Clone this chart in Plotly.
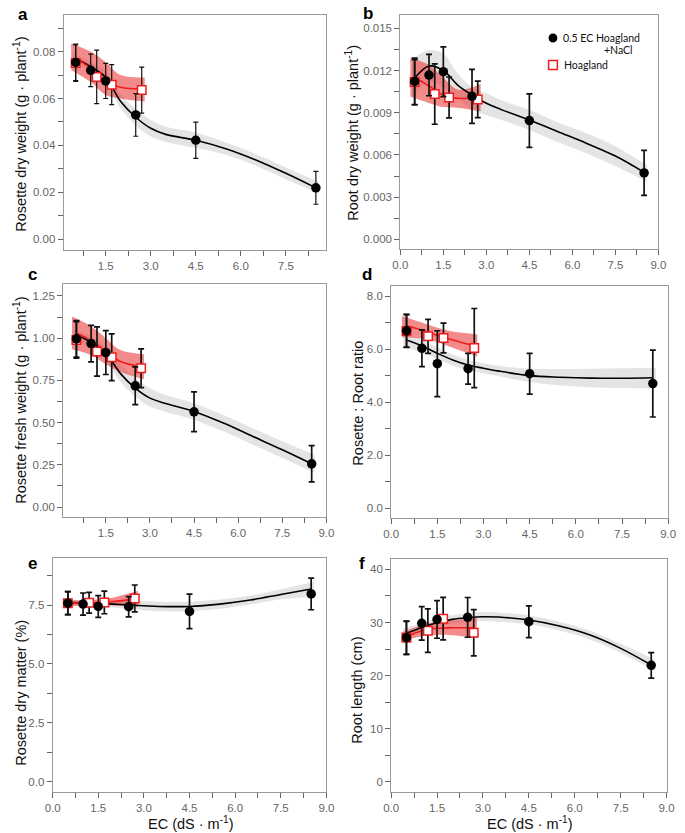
import plotly.graph_objects as go
from plotly.subplots import make_subplots

W, H = 685, 833

# ---------------- shared x values ----------------
ec_salt = [0.5, 1.0, 1.5, 2.5, 4.5, 8.5]
ec_hoag = [0.5, 1.2, 1.7, 2.7]
fit_x_salt = [0.5, 1.0, 1.5, 2.0, 2.5, 3.0, 3.5, 4.5, 5.5, 6.5, 7.5, 8.5]
fit_x_hoag = [0.5, 1.0, 1.5, 2.0, 2.7]
band_x_salt = [0.4, 1.0, 1.5, 2.0, 2.5, 3.0, 3.5, 4.5, 5.5, 6.5, 7.5, 8.6]
band_x_hoag = [0.35, 1.0, 1.5, 2.0, 2.8]

x_tick_vals = [0.0, 1.5, 3.0, 4.5, 6.0, 7.5, 9.0]
x_tick_text = ["0.0", "1.5", "3.0", "4.5", "6.0", "7.5", "9.0"]
x_minor_step = 0.75

# ---------------- panel a: rosette dry weight ----------------
a_salt_y = [0.0754, 0.0720, 0.0675, 0.0530, 0.0422, 0.0219]
a_salt_err = [0.0078, 0.0069, 0.0075, 0.0091, 0.0077, 0.0070]
a_hoag_y = [0.0751, 0.0692, 0.0659, 0.0636]
a_hoag_err = [0.0078, 0.0114, 0.0085, 0.0098]
a_salt_fit = [0.0771, 0.0736, 0.0690, 0.0587, 0.0520, 0.0473, 0.0447, 0.0422, 0.0386, 0.0338, 0.0281, 0.0219]
a_salt_hi = [0.0790, 0.0756, 0.0715, 0.0617, 0.0555, 0.0508, 0.0479, 0.0455, 0.0412, 0.0363, 0.0306, 0.0244]
a_salt_lo = [0.0752, 0.0716, 0.0665, 0.0557, 0.0485, 0.0438, 0.0415, 0.0389, 0.0360, 0.0313, 0.0256, 0.0194]
a_hoag_fit = [0.0771, 0.0729, 0.0672, 0.0648, 0.0640]
a_hoag_hi = [0.0835, 0.0800, 0.0755, 0.0700, 0.0690]
a_hoag_lo = [0.0722, 0.0670, 0.0615, 0.0600, 0.0587]
a_y_ticks = [0.00, 0.02, 0.04, 0.06, 0.08]
a_y_text = ["0.00", "0.02", "0.04", "0.06", "0.08"]
a_y_minor = 0.01

# ---------------- panel b: root dry weight ----------------
b_salt_y = [0.01123, 0.01168, 0.01192, 0.01017, 0.00844, 0.00472]
b_salt_err = [0.00166, 0.00147, 0.00177, 0.00192, 0.00190, 0.00160]
b_hoag_y = [0.01118, 0.01033, 0.01009, 0.00995]
b_hoag_err = [0.00160, 0.00215, 0.00145, 0.00130]
b_salt_fit = [0.01145, 0.01232, 0.01200, 0.01097, 0.01026, 0.00967, 0.00924, 0.00848, 0.00765, 0.00682, 0.00592, 0.00476]
b_salt_hi = [0.01280, 0.01346, 0.01320, 0.01180, 0.01080, 0.01038, 0.00990, 0.00919, 0.00830, 0.00754, 0.00660, 0.00528]
b_salt_lo = [0.01010, 0.01120, 0.01080, 0.01010, 0.00920, 0.00884, 0.00850, 0.00777, 0.00690, 0.00611, 0.00520, 0.00410]
b_hoag_fit = [0.01152, 0.01090, 0.01026, 0.01002, 0.01010]
b_hoag_hi = [0.01287, 0.01240, 0.01150, 0.01065, 0.01105]
b_hoag_lo = [0.01014, 0.00970, 0.00940, 0.00935, 0.00910]
b_y_ticks = [0.0, 0.003, 0.006, 0.009, 0.012, 0.015]
b_y_text = ["0.000", "0.003", "0.006", "0.009", "0.012", "0.015"]
b_y_minor = 0.0015

# ---------------- panel c: rosette fresh weight ----------------
c_salt_y = [0.996, 0.968, 0.915, 0.718, 0.564, 0.256]
c_salt_err = [0.108, 0.108, 0.130, 0.112, 0.118, 0.107]
c_hoag_y = [0.990, 0.921, 0.887, 0.822]
c_hoag_err = [0.108, 0.146, 0.138, 0.115]
c_salt_fit = [1.020, 0.975, 0.910, 0.790, 0.704, 0.645, 0.615, 0.566, 0.497, 0.418, 0.339, 0.256]
c_salt_hi = [1.050, 1.010, 0.950, 0.845, 0.763, 0.704, 0.665, 0.615, 0.545, 0.467, 0.390, 0.310]
c_salt_lo = [0.990, 0.940, 0.870, 0.740, 0.655, 0.595, 0.565, 0.516, 0.448, 0.369, 0.290, 0.201]
c_hoag_fit = [1.030, 0.986, 0.921, 0.862, 0.832]
c_hoag_hi = [1.128, 1.070, 1.000, 0.930, 0.905]
c_hoag_lo = [0.935, 0.900, 0.845, 0.800, 0.757]
c_y_ticks = [0.0, 0.25, 0.5, 0.75, 1.0, 1.25]
c_y_text = ["0.00", "0.25", "0.50", "0.75", "1.00", "1.25"]
c_y_minor = 0.125

# ---------------- panel d: rosette : root ratio ----------------
d_salt_y = [6.69, 6.03, 5.45, 5.26, 5.07, 4.70]
d_salt_err = [0.62, 0.69, 1.24, 0.58, 0.77, 1.26]
d_hoag_y = [6.68, 6.48, 6.42, 6.04]
d_hoag_err = [0.62, 0.64, 0.56, 1.49]
d_salt_fit = [6.34, 6.12, 5.84, 5.59, 5.40, 5.28, 5.17, 5.00, 4.94, 4.905, 4.90, 4.92]
d_salt_hi = [6.59, 6.36, 6.06, 5.80, 5.60, 5.47, 5.37, 5.26, 5.25, 5.26, 5.28, 5.30]
d_salt_lo = [6.07, 5.88, 5.62, 5.38, 5.20, 5.09, 4.98, 4.76, 4.63, 4.56, 4.53, 4.52]
d_hoag_fit = [6.88, 6.72, 6.52, 6.34, 6.12]
d_hoag_hi = [7.25, 7.00, 6.80, 6.66, 6.55]
d_hoag_lo = [6.45, 6.40, 6.27, 6.05, 5.72]
d_y_ticks = [0, 2, 4, 6, 8]
d_y_text = ["0.0", "2.0", "4.0", "6.0", "8.0"]
d_y_minor = 1.0

# ---------------- panel e: rosette dry matter ----------------
e_salt_y = [7.58, 7.54, 7.44, 7.43, 7.23, 7.97]
e_salt_err = [0.49, 0.47, 0.46, 0.43, 0.73, 0.67]
e_hoag_y = [7.58, 7.60, 7.61, 7.78]
e_hoag_err = [0.49, 0.44, 0.48, 0.57]
e_salt_fit = [7.61, 7.59, 7.57, 7.54, 7.50, 7.47, 7.44, 7.44, 7.54, 7.71, 7.95, 8.18]
e_salt_hi = [7.72, 7.70, 7.69, 7.69, 7.68, 7.67, 7.64, 7.64, 7.73, 7.90, 8.17, 8.49]
e_salt_lo = [7.49, 7.48, 7.46, 7.40, 7.33, 7.28, 7.24, 7.24, 7.34, 7.52, 7.74, 7.84]
e_hoag_fit = [7.58, 7.59, 7.61, 7.65, 7.75]
e_hoag_hi = [7.71, 7.70, 7.73, 7.82, 8.09]
e_hoag_lo = [7.43, 7.48, 7.49, 7.48, 7.43]
e_y_ticks = [0, 2.5, 5.0, 7.5]
e_y_text = ["0.0", "2.5", "5.0", "7.5"]
e_y_minor = 1.25

# ---------------- panel f: root length ----------------
f_salt_y = [27.13, 29.83, 30.58, 30.96, 30.14, 21.92]
f_salt_err = [3.14, 3.14, 3.55, 3.74, 3.00, 2.39]
f_hoag_y = [27.10, 28.45, 30.71, 28.07]
f_hoag_err = [3.10, 4.10, 4.00, 4.36]
f_salt_fit = [27.94, 29.07, 29.95, 30.58, 30.90, 31.08, 31.02, 30.45, 29.32, 27.63, 25.12, 21.98]
f_salt_hi = [28.90, 29.90, 30.75, 31.40, 31.75, 31.93, 31.90, 31.30, 30.15, 28.45, 26.00, 23.05]
f_salt_lo = [27.00, 28.25, 29.15, 29.80, 30.05, 30.23, 30.15, 29.60, 28.50, 26.80, 24.25, 20.90]
f_hoag_fit = [27.30, 28.45, 28.90, 29.00, 29.00]
f_hoag_hi = [28.15, 29.50, 30.15, 30.40, 30.90]
f_hoag_lo = [26.45, 27.40, 27.65, 27.60, 27.10]
f_y_ticks = [0, 10, 20, 30, 40]
f_y_text = ["0", "10", "20", "30", "40"]
f_y_minor = 5

legend_labels = ["0.5 EC Hoagland", "+NaCl", "Hoagland"]

# ---------------- assemble ----------------
panels = [
    dict(letter="a", row=1, col=1,
         title="Rosette dry weight (g · plant<sup>-1</sup>)",
         sy=a_salt_y, se=a_salt_err, hy=a_hoag_y, he=a_hoag_err,
         sf=a_salt_fit, shi=a_salt_hi, slo=a_salt_lo,
         hf=a_hoag_fit, hhi=a_hoag_hi, hlo=a_hoag_lo,
         yt=a_y_ticks, ytt=a_y_text, ym=a_y_minor),
    dict(letter="b", row=1, col=2,
         title="Root dry weight (g · plant<sup>-1</sup>)",
         sy=b_salt_y, se=b_salt_err, hy=b_hoag_y, he=b_hoag_err,
         sf=b_salt_fit, shi=b_salt_hi, slo=b_salt_lo,
         hf=b_hoag_fit, hhi=b_hoag_hi, hlo=b_hoag_lo,
         yt=b_y_ticks, ytt=b_y_text, ym=b_y_minor),
    dict(letter="c", row=2, col=1,
         title="Rosette fresh weight (g · plant<sup>-1</sup>)",
         sy=c_salt_y, se=c_salt_err, hy=c_hoag_y, he=c_hoag_err,
         sf=c_salt_fit, shi=c_salt_hi, slo=c_salt_lo,
         hf=c_hoag_fit, hhi=c_hoag_hi, hlo=c_hoag_lo,
         yt=c_y_ticks, ytt=c_y_text, ym=c_y_minor),
    dict(letter="d", row=2, col=2,
         title="Rosette : Root ratio",
         sy=d_salt_y, se=d_salt_err, hy=d_hoag_y, he=d_hoag_err,
         sf=d_salt_fit, shi=d_salt_hi, slo=d_salt_lo,
         hf=d_hoag_fit, hhi=d_hoag_hi, hlo=d_hoag_lo,
         yt=d_y_ticks, ytt=d_y_text, ym=d_y_minor),
    dict(letter="e", row=3, col=1,
         title="Rosette dry matter (%)",
         sy=e_salt_y, se=e_salt_err, hy=e_hoag_y, he=e_hoag_err,
         sf=e_salt_fit, shi=e_salt_hi, slo=e_salt_lo,
         hf=e_hoag_fit, hhi=e_hoag_hi, hlo=e_hoag_lo,
         yt=e_y_ticks, ytt=e_y_text, ym=e_y_minor),
    dict(letter="f", row=3, col=2,
         title="Root length (cm)",
         sy=f_salt_y, se=f_salt_err, hy=f_hoag_y, he=f_hoag_err,
         sf=f_salt_fit, shi=f_salt_hi, slo=f_salt_lo,
         hf=f_hoag_fit, hhi=f_hoag_hi, hlo=f_hoag_lo,
         yt=f_y_ticks, ytt=f_y_text, ym=f_y_minor),
]

# layout geometry (pixels): frame left, right, top, bottom; axis ranges; label positions
geom = {
    "a": dict(box=(57, 326, 15, 250), xr=[0.1, 8.85], yr=[-0.0046, 0.0956],
              ttl=(12, 134), let=(15, 14), eb=(1.2, 2.5)),
    "b": dict(box=(401.7, 666, 15, 249.3), xr=[0, 9], yr=[-0.00071, 0.01595],
              ttl=(352, 133), let=(369, 13), eb=(1.7, 3)),
    "c": dict(box=(56.5, 326, 284, 517.3), xr=[0.05, 9], yr=[-0.061, 1.321],
              ttl=(12, 400), let=(25, 274), eb=(1.7, 3)),
    "d": dict(box=(392.3, 676, 286, 518.3), xr=[0, 9], yr=[-0.377, 8.377],
              ttl=(358, 403), let=(368, 274), eb=(1.7, 3)),
    "e": dict(box=(45.7, 326, 558, 791.7), xr=[0, 9], yr=[-0.42, 9.495],
              ttl=(13, 693), let=(25, 563), eb=(1.7, 3)),
    "f": dict(box=(392.3, 674.3, 559.3, 791.7), xr=[0, 9], yr=[-1.88, 41.9],
              ttl=(357, 690), let=(362, 563), eb=(1.7, 3)),
}

GRAY_BAND = "rgba(190,190,190,0.42)"
RED_BAND = "rgba(235,55,55,0.58)"
RED = "#ee1c1c"
TICK_FONT = dict(family="Liberation Sans, Arial, sans-serif", size=11.5, color="#666666")
TITLE_FONT = dict(family="Liberation Sans, Arial, sans-serif", size=14.5, color="#111111")

fig = make_subplots(rows=3, cols=2)

annotations = []
for p in panels:
    g = geom[p["letter"]]
    r, c = p["row"], p["col"]
    thick, wid = g["eb"]
    # gray band (salt series)
    fig.add_trace(go.Scatter(x=band_x_salt, y=p["slo"], mode="lines", line=dict(width=0, shape="spline"),
                             hoverinfo="skip", showlegend=False), row=r, col=c)
    fig.add_trace(go.Scatter(x=band_x_salt, y=p["shi"], mode="lines", line=dict(width=0, shape="spline"),
                             fill="tonexty", fillcolor=GRAY_BAND, hoverinfo="skip", showlegend=False), row=r, col=c)
    # red band (Hoagland)
    fig.add_trace(go.Scatter(x=band_x_hoag, y=p["hlo"], mode="lines", line=dict(width=0, shape="spline"),
                             hoverinfo="skip", showlegend=False), row=r, col=c)
    fig.add_trace(go.Scatter(x=band_x_hoag, y=p["hhi"], mode="lines", line=dict(width=0, shape="spline"),
                             fill="tonexty", fillcolor=RED_BAND, hoverinfo="skip", showlegend=False), row=r, col=c)
    # fitted lines
    fig.add_trace(go.Scatter(x=fit_x_salt, y=p["sf"], mode="lines",
                             line=dict(color="black", width=1.6, shape="spline"),
                             showlegend=False), row=r, col=c)
    fig.add_trace(go.Scatter(x=fit_x_hoag, y=p["hf"], mode="lines",
                             line=dict(color=RED, width=1.6, shape="spline"),
                             showlegend=False), row=r, col=c)
    # Hoagland points
    fig.add_trace(go.Scatter(x=ec_hoag, y=p["hy"], mode="markers",
                             marker=dict(symbol="square", size=8.5, color="white",
                                         line=dict(color=RED, width=1.5)),
                             error_y=dict(type="data", array=p["he"], color="#111111",
                                          thickness=thick, width=wid),
                             showlegend=False), row=r, col=c)
    # salt points
    fig.add_trace(go.Scatter(x=ec_salt, y=p["sy"], mode="markers",
                             marker=dict(symbol="circle", size=9.5, color="black"),
                             error_y=dict(type="data", array=p["se"], color="#111111",
                                          thickness=thick, width=wid),
                             showlegend=False), row=r, col=c)

    L, R, T, B = g["box"]
    if p["letter"] == "a":
        xv, xt = x_tick_vals[1:-1], x_tick_text[1:-1]
    else:
        xv, xt = x_tick_vals, x_tick_text
    fig.update_xaxes(domain=[L / W, R / W], range=g["xr"], row=r, col=c,
                     tickmode="array", tickvals=xv, ticktext=xt,
                     ticks="outside", ticklen=5, tickcolor="#666666", tickwidth=1,
                     minor=dict(tickmode="linear", tick0=0, dtick=x_minor_step, ticks="outside",
                                ticklen=5, tickcolor="#666666", tickwidth=1, showgrid=False),
                     showline=True, linecolor="#9a9a9a", linewidth=1, mirror=True,
                     showgrid=False, zeroline=False, tickfont=TICK_FONT)
    fig.update_yaxes(domain=[1 - B / H, 1 - T / H], range=g["yr"], row=r, col=c,
                     tickmode="array", tickvals=p["yt"], ticktext=p["ytt"],
                     ticks="outside", ticklen=5, tickcolor="#666666", tickwidth=1,
                     minor=dict(tickmode="linear", tick0=0, dtick=p["ym"], ticks="outside",
                                ticklen=5, tickcolor="#666666", tickwidth=1, showgrid=False),
                     showline=True, linecolor="#9a9a9a", linewidth=1, mirror=True,
                     showgrid=False, zeroline=False, tickfont=TICK_FONT)

    tx, ty = g["ttl"]
    annotations.append(dict(text=p["title"], x=tx / W, y=1 - ty / H, xref="paper", yref="paper",
                            textangle=-90, showarrow=False, xanchor="center", yanchor="middle",
                            font=TITLE_FONT))
    lx, ly = g["let"]
    annotations.append(dict(text="<b>%s</b>" % p["letter"], x=lx / W, y=1 - ly / H, xref="paper", yref="paper",
                            showarrow=False, xanchor="center", yanchor="middle",
                            font=dict(family="Liberation Sans, Arial, sans-serif", size=17, color="black")))

# x-axis titles (bottom row)
for cx in (187, 534):
    annotations.append(dict(text="EC (dS · m<sup>-1</sup>)", x=cx / W, y=1 - 823 / H, xref="paper", yref="paper",
                            showarrow=False, xanchor="center", yanchor="middle", font=TITLE_FONT))

# legend (panel b)
LEG_FONT = dict(family="Lato, Open Sans, sans-serif", size=10.5, color="#111111")
annotations.append(dict(text=legend_labels[0], x=566 / W, y=1 - 37.5 / H, xref="paper", yref="paper",
                        showarrow=False, xanchor="left", yanchor="middle", font=LEG_FONT))
annotations.append(dict(text=legend_labels[1], x=642 / W, y=1 - 50 / H, xref="paper", yref="paper",
                        showarrow=False, xanchor="right", yanchor="middle", font=LEG_FONT))
annotations.append(dict(text=legend_labels[2], x=567 / W, y=1 - 65 / H, xref="paper", yref="paper",
                        showarrow=False, xanchor="left", yanchor="middle", font=LEG_FONT))
shapes = [
    dict(type="circle", xref="paper", yref="paper", x0=(558 - 4.5) / W, x1=(558 + 4.5) / W,
         y0=1 - (38 + 4.5) / H, y1=1 - (38 - 4.5) / H, fillcolor="black", line=dict(color="black", width=0)),
    dict(type="rect", xref="paper", yref="paper", x0=(558 - 4.5) / W, x1=(558 + 4.5) / W,
         y0=1 - (65 + 4.5) / H, y1=1 - (65 - 4.5) / H, fillcolor="white", line=dict(color=RED, width=1.5)),
]

fig.update_layout(width=W, height=H, margin=dict(l=0, r=0, t=0, b=0),
                  paper_bgcolor="white", plot_bgcolor="white",
                  annotations=annotations, shapes=shapes, showlegend=False)

fig.write_html("out.html", config={"displayModeBar": False},
               post_script="document.body.style.margin='0px';document.body.style.overflow='hidden';")
